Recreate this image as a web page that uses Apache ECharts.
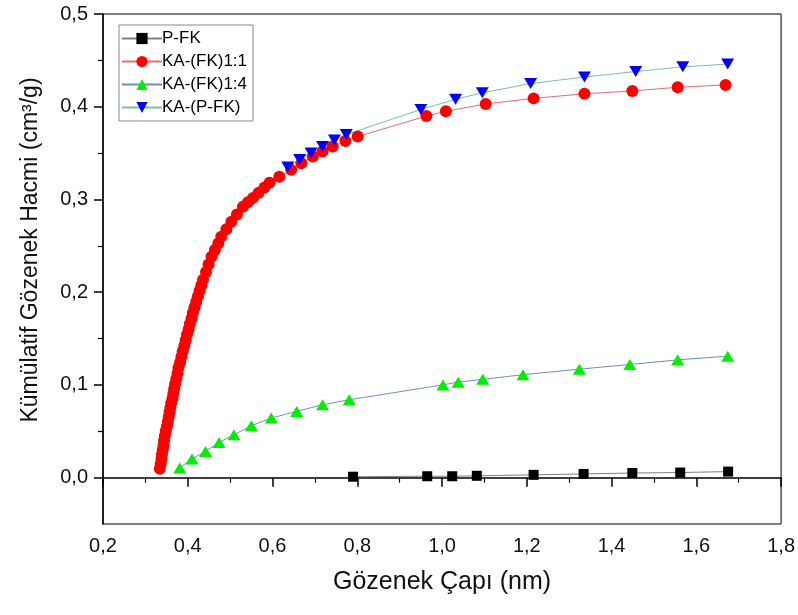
<!DOCTYPE html>
<html>
<head>
<meta charset="utf-8">
<script src="https://cdn.jsdelivr.net/npm/echarts@6/dist/echarts.min.js"></script>
<style>
  html, body { margin: 0; padding: 0; background: #fff; }
  #chart { width: 798px; height: 615px; }
</style>
</head>
<body>
<div id="chart"></div>
<script>
// P-FK
const pfkX = [0.79, 0.965, 1.024, 1.082, 1.216, 1.334, 1.449, 1.562, 1.675];
const pfkY = [0.001, 0.0015, 0.0015, 0.002, 0.003, 0.004, 0.005, 0.0055, 0.0065];

// KA-(FK)1:1
const fk11X = [
  0.334, 0.336, 0.338, 0.339, 0.341, 0.343, 0.344, 0.346, 0.348, 0.351,
  0.353, 0.355, 0.357, 0.359, 0.361, 0.364, 0.366, 0.368, 0.370, 0.373,
  0.376, 0.378, 0.382, 0.385, 0.388, 0.392, 0.395, 0.398, 0.402, 0.405,
  0.409, 0.412, 0.416, 0.420, 0.424, 0.428, 0.432, 0.436, 0.443, 0.449,
  0.456, 0.464, 0.472, 0.479, 0.491, 0.503, 0.516, 0.530, 0.542, 0.554,
  0.567, 0.581, 0.593, 0.616, 0.644, 0.668, 0.695, 0.718, 0.742, 0.772,
  0.801, 0.963, 1.009, 1.103, 1.216, 1.336, 1.449, 1.556, 1.669
];
const fk11Y = [
  0.0097, 0.0148, 0.0198, 0.0249, 0.0300, 0.0350, 0.0401, 0.0452, 0.0502, 0.0553,
  0.0603, 0.0654, 0.0705, 0.0755, 0.0806, 0.0857, 0.0907, 0.0958, 0.1009, 0.1067,
  0.1126, 0.1185, 0.1245, 0.1304, 0.1363, 0.1422, 0.1482, 0.1541, 0.1600, 0.1659,
  0.1719, 0.1778, 0.1837, 0.1897, 0.1956, 0.2015, 0.2074, 0.2134, 0.2217, 0.2298,
  0.2381, 0.2454, 0.2525, 0.2597, 0.2678, 0.2759, 0.2839, 0.2920, 0.2969, 0.3017,
  0.3071, 0.3130, 0.3179, 0.3244, 0.3319, 0.3391, 0.3462, 0.3516, 0.3570, 0.3631,
  0.3678, 0.390, 0.395, 0.403, 0.409, 0.414, 0.417, 0.421, 0.4235
];

// KA-(FK)1:4
const fk14X = [0.381, 0.410, 0.442, 0.474, 0.509, 0.550, 0.597, 0.657, 0.718, 0.781,
  1.002, 1.038, 1.096, 1.191, 1.324, 1.443, 1.556, 1.674];
const fk14Y = [0.0105, 0.0202, 0.0283, 0.038, 0.0463, 0.056, 0.0643, 0.0714, 0.0786, 0.084,
  0.100, 0.103, 0.106, 0.111, 0.117, 0.122, 0.127, 0.131];

// KA-(P-FK)
const kapfkX = [0.636, 0.664, 0.691, 0.718, 0.746, 0.774, 0.950, 1.032, 1.095, 1.209,
  1.336, 1.457, 1.568, 1.674];
const kapfkY = [0.335, 0.343, 0.350, 0.357, 0.364, 0.370, 0.397, 0.408, 0.415, 0.425,
  0.432, 0.438, 0.443, 0.446];

const yMajor = [0, 0.1, 0.2, 0.3, 0.4, 0.5];
const yMinor = [0.05, 0.15, 0.25, 0.35, 0.45];

const toPairs = (xs, ys) => xs.map((x, i) => [x, ys[i]]);
const fmt = (v) => Number(v).toFixed(1).replace(".", ",");
const font = "'Liberation Sans', Arial, sans-serif";

const chart = echarts.init(document.getElementById("chart"));
chart.setOption({
  animation: false,
  backgroundColor: "#fff",
  textStyle: { fontFamily: font },
  grid: {
    left: 103, right: 15, top: 14, bottom: 91,
    show: true, borderColor: "#000", borderWidth: 1,
  },
  legend: {
    orient: "vertical",
    left: 119,
    top: 25,
    padding: [5, 6, 5, 2],
    itemWidth: 40,
    itemHeight: 14,
    itemGap: 6,
    borderColor: "#888",
    borderWidth: 1,
    backgroundColor: "#fff",
    textStyle: { fontSize: 17, color: "#000", fontFamily: font, padding: [0, 0, 0, -5] },
    data: ["P-FK", "KA-(FK)1:1", "KA-(FK)1:4", "KA-(P-FK)"],
  },
  xAxis: {
    type: "value",
    min: 0.2,
    max: 1.8,
    interval: 0.2,
    name: "Gözenek Çapı (nm)",
    nameLocation: "middle",
    nameGap: 46,
    nameTextStyle: { fontSize: 25, color: "#111", fontFamily: font },
    axisLine: { lineStyle: { color: "#000", width: 1.5 } },
    axisTick: { length: 9, lineStyle: { color: "#000", width: 1.5 } },
    minorTick: { show: true, splitNumber: 2, length: 5, lineStyle: { color: "#000", width: 1.2 } },
    splitLine: { show: false },
    axisLabel: { formatter: fmt, fontSize: 20, color: "#111", margin: 12, fontFamily: font },
  },
  yAxis: [
    {
      type: "value",
      min: -0.05,
      max: 0.5,
      name: "Kümülatif Gözenek Hacmi (cm³/g)",
      nameLocation: "middle",
      nameGap: 61,
      nameTextStyle: { fontSize: 23, color: "#111", fontFamily: font, padding: [0, 0, 0, 38] },
      axisLine: { lineStyle: { color: "#000", width: 1.5 } },
      axisTick: { length: 9, customValues: yMajor, lineStyle: { color: "#000", width: 1.5 } },
      splitLine: { show: false },
      axisLabel: { customValues: yMajor, formatter: fmt, fontSize: 20, color: "#111", margin: 15, fontFamily: font },
    },
    {
      type: "value",
      min: -0.05,
      max: 0.5,
      position: "left",
      axisLine: { show: false },
      axisTick: { length: 5, customValues: yMinor, lineStyle: { color: "#000", width: 1.2 } },
      axisLabel: { show: false },
      splitLine: { show: false },
    },
  ],
  series: [
    {
      name: "P-FK",
      type: "line",
      data: toPairs(pfkX, pfkY),
      symbol: "rect",
      symbolSize: 10,
      itemStyle: { color: "#000" },
      lineStyle: { color: "#808080", width: 1 },
    },
    {
      name: "KA-(FK)1:1",
      type: "line",
      data: toPairs(fk11X, fk11Y),
      symbol: "circle",
      symbolSize: 12,
      itemStyle: { color: "#ff0000" },
      lineStyle: { color: "#e07070", width: 1 },
    },
    {
      name: "KA-(FK)1:4",
      type: "line",
      data: toPairs(fk14X, fk14Y),
      symbol: "triangle",
      symbolSize: [13, 11],
      itemStyle: { color: "#00ee00" },
      lineStyle: { color: "#6d8fc7", width: 1 },
    },
    {
      name: "KA-(P-FK)",
      type: "line",
      data: toPairs(kapfkX, kapfkY),
      symbol: "triangle",
      symbolRotate: 180,
      symbolSize: [13, 11],
      itemStyle: { color: "#0000ff" },
      lineStyle: { color: "#7fbf9f", width: 1 },
    },
  ],
});
</script>
</body>
</html>
